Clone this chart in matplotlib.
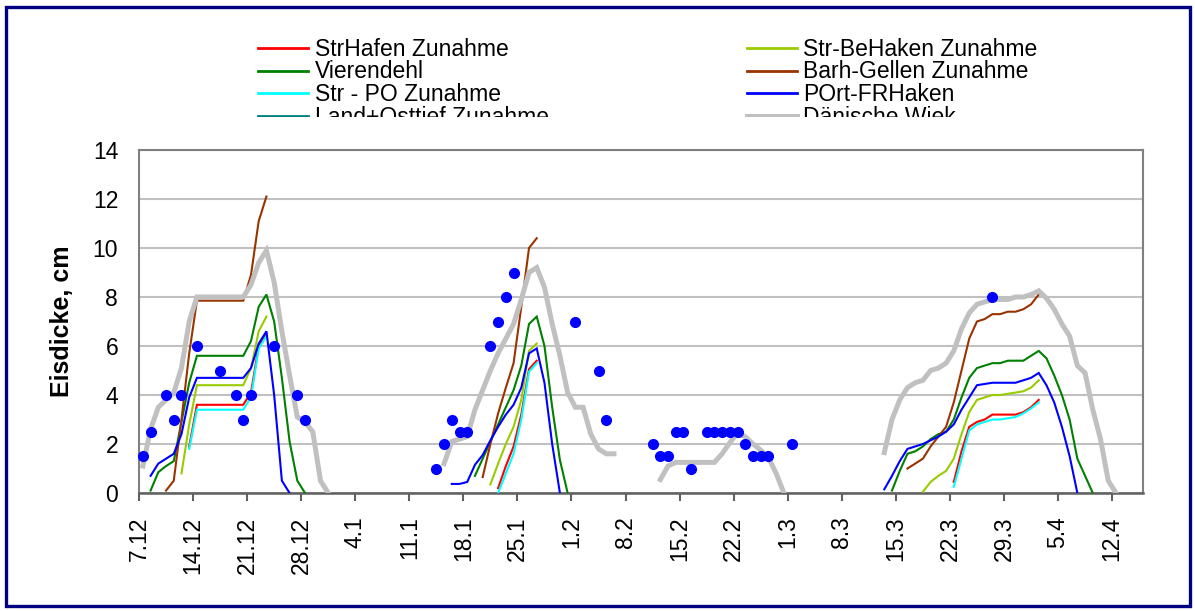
import numpy as np
import matplotlib
matplotlib.use("Agg")
import matplotlib.pyplot as plt
from matplotlib.lines import Line2D
from matplotlib.patches import Rectangle

plt.rcParams['font.family'] = ['Liberation Sans', 'DejaVu Sans']

# tick labels, one every 7 days starting 7.12 (day 0)
tick_days = list(range(0, 127, 7))
tick_labels = ["7.12", "14.12", "21.12", "28.12", "4.1", "11.1", "18.1", "25.1",
               "1.2", "8.2", "15.2", "22.2", "1.3", "8.3", "15.3", "22.3",
               "29.3", "5.4", "12.4"]

# series: list of (start day, daily values)
strhafen = [(6, [1.9, 3.6, 3.6, 3.6, 3.6, 3.6, 3.6, 3.6, 4.1, 6.0, 6.5]),
            (46, [0.2, 1.1, 1.9, 3.2, 5.05, 5.4]),
            (105, [0.45, 1.7, 2.7, 2.9, 3.0, 3.2, 3.2, 3.2, 3.2, 3.3, 3.5, 3.8])]
str_behaken = [(5, [0.8, 2.8, 4.4, 4.4, 4.4, 4.4, 4.4, 4.4, 4.4, 5.1, 6.6, 7.2]),
               (45, [0.35, 1.2, 2.0, 2.7, 3.8, 5.8, 6.1]),
               (101, [0.05, 0.45, 0.7, 0.9, 1.4, 2.4, 3.3, 3.8, 3.9, 4.0, 4.0,
                      4.05, 4.1, 4.15, 4.3, 4.6])]
vierendehl = [(1, [0.1, 0.85, 1.1, 1.3, 2.9, 4.5, 5.6, 5.6, 5.6, 5.6, 5.6, 5.6, 5.6,
                   6.2, 7.6, 8.1, 7.0, 4.7, 2.1, 0.5, 0.0]),
              (43, [0.7, 1.4, 2.1, 2.8, 3.5, 4.2, 5.2, 6.9, 7.2, 6.0, 3.5, 1.35, 0.0]),
              (97, [0.1, 0.9, 1.6, 1.7, 1.9, 2.2, 2.4, 2.5, 3.0, 3.9, 4.7, 5.1, 5.2,
                    5.3, 5.3, 5.4, 5.4, 5.4, 5.6, 5.8, 5.5, 4.8, 4.0, 3.0, 1.4, 0.7, 0.0])]
barh_gellen = [(3, [0.1, 0.5, 3.0, 5.7, 7.85, 7.85, 7.85, 7.85, 7.85, 7.85, 7.85,
                    8.9, 11.1, 12.1]),
               (44, [0.65, 2.0, 3.25, 4.3, 5.3, 7.6, 10.0, 10.4]),
               (99, [1.0, 1.2, 1.4, 1.9, 2.3, 2.7, 3.7, 5.0, 6.3, 7.0, 7.1, 7.3, 7.3,
                     7.4, 7.4, 7.5, 7.7, 8.1])]
str_po = [(6, [1.8, 3.4, 3.4, 3.4, 3.4, 3.4, 3.4, 3.4, 3.9, 5.9, 6.4]),
          (46, [0.0, 0.8, 1.6, 3.0, 4.95, 5.3]),
          (105, [0.25, 1.4, 2.55, 2.8, 2.9, 3.0, 3.0, 3.05, 3.1, 3.25, 3.45, 3.7])]
port_frhaken = [(1, [0.7, 1.2, 1.4, 1.6, 2.4, 3.9, 4.7, 4.7, 4.7, 4.7, 4.7, 4.7, 4.7,
                     5.1, 6.1, 6.6, 4.0, 0.5, 0.0]),
                (40, [0.37, 0.37, 0.45, 1.15, 1.55, 2.15, 2.7, 3.2, 3.6, 4.3, 5.7,
                      5.9, 4.5, 2.0, 0.0]),
                (96, [0.15, 0.7, 1.3, 1.8, 1.9, 2.0, 2.15, 2.3, 2.5, 2.8, 3.4, 3.9,
                      4.4, 4.45, 4.5, 4.5, 4.5, 4.5, 4.6, 4.7, 4.9, 4.4, 3.7, 2.7,
                      1.5, 0.0])]
land_osttief = []
daenische_wiek = [(0, [1.1, 2.6, 3.5, 3.8, 4.1, 5.1, 7.0, 8.0, 8.0, 8.0, 8.0, 8.0, 8.0,
                       8.0, 8.5, 9.4, 9.9, 8.6, 6.6, 4.8, 3.1, 2.9, 2.5, 0.5, 0.0]),
                  (39, [1.2, 2.1, 2.2, 2.3, 3.4, 4.2, 5.0, 5.7, 6.3, 6.9, 7.9, 9.0,
                        9.2, 8.4, 6.9, 5.6, 4.1, 3.5, 3.5, 2.4, 1.8, 1.6, 1.6]),
                  (67, [0.55, 1.1, 1.25, 1.25, 1.25, 1.25, 1.25, 1.25, 1.6, 2.05,
                        2.45, 2.3, 2.0, 1.75, 1.45, 0.8, 0.0]),
                  (96, [1.65, 3.0, 3.8, 4.3, 4.5, 4.6, 5.0, 5.1, 5.3, 5.8, 6.7, 7.35,
                        7.7, 7.8, 7.9, 7.9, 7.9, 8.0, 8.0, 8.1, 8.25, 7.95, 7.5, 6.9,
                        6.4, 5.2, 4.9, 3.4, 2.2, 0.5, 0.0])]

# single measurements (blue dots)
dot_days = [0, 1, 3, 4, 5, 7, 10, 12, 13, 14, 17, 20, 21,
            38, 39, 40, 41, 42, 45, 46, 47, 48, 56, 59, 60,
            66, 67, 68, 69, 70, 71, 73, 74, 75, 76, 77, 78, 79, 80, 81, 84, 110]
dot_vals = [1.5, 2.5, 4, 3, 4, 6, 5, 4, 3, 4, 6, 4, 3,
            1, 2, 3, 2.5, 2.5, 6, 7, 8, 9, 7, 5, 3,
            2, 1.5, 1.5, 2.5, 2.5, 1, 2.5, 2.5, 2.5, 2.5, 2.5, 2, 1.5, 1.5, 1.5, 2, 8]

series = [("StrHafen Zunahme", strhafen, "#ff0000", 1.5),
          ("Str-BeHaken Zunahme", str_behaken, "#99cc00", 1.5),
          ("Vierendehl", vierendehl, "#008000", 1.5),
          ("Barh-Gellen Zunahme", barh_gellen, "#993300", 1.5),
          ("Str - PO Zunahme", str_po, "#00ffff", 1.5),
          ("POrt-FRHaken", port_frhaken, "#0000ff", 1.5),
          ("Land+Osttief Zunahme", land_osttief, "#008080", 1.5),
          ("Dänische Wiek", daenische_wiek, "#c0c0c0", 3.6)]

W, H = 1195, 611
fig = plt.figure(figsize=(W / 100, H / 100), dpi=100)
ax = fig.add_axes([139 / W, 118 / H, (1143 - 139) / W, (493 - 150) / H])

for name, segs, col, lw in series:
    for start, vals in segs:
        x = np.arange(len(vals)) + start + 0.5
        ax.plot(x, vals, color=col, lw=lw, solid_joinstyle='miter', zorder=3)

ax.plot(np.array(dot_days) + 0.5, dot_vals, 'o', color='#0000ff', ms=7,
        mec='#0000ff', zorder=5, clip_on=False)

ax.set_xlim(0, 130)
ax.set_ylim(0, 14)
ax.set_yticks(range(0, 15, 2))
ax.set_xticks(tick_days)
ax.set_xticklabels(tick_labels, rotation=90, ha='center', va='top')
ax.tick_params(axis='y', length=0, pad=15, labelsize=16.5)
ax.tick_params(axis='x', length=6, width=1.5, color='#606060', pad=11, labelsize=16.5)
ax.grid(axis='y', color='#c0c0c0', lw=1.5)
ax.set_axisbelow(True)
for s in ['left', 'right', 'top']:
    ax.spines[s].set_color('#808080')
    ax.spines[s].set_linewidth(1.5)
ax.spines['bottom'].set_color('#606060')
ax.spines['bottom'].set_linewidth(1.8)

ax.set_ylabel("Eisdicke, cm", fontsize=18, fontweight='bold', va='center')
ax.yaxis.set_label_coords(-0.0767, 0.5)

# legend drawn by hand (Excel order, two columns), bottom row cut off
for i, (name, segs, col, lw) in enumerate(series):
    c, r = i % 2, i // 2
    x0 = [258, 747][c]
    tx = [315, 803][c]
    yc = 48 + r * 22.6
    fig.add_artist(Line2D([x0 / W, (x0 + 50) / W], [1 - yc / H, 1 - yc / H],
                          color=col, lw=max(lw, 2.0), transform=fig.transFigure))
    fig.text(tx / W, 1 - (yc + 7.8) / H, name, fontsize=16.5, va='baseline', ha='left')

fig.add_artist(Rectangle((240 / W, 1 - 141 / H), 880 / W, 24 / H, transform=fig.transFigure,
                         facecolor='white', edgecolor='none', zorder=10))

# outer frame
fig.add_artist(Rectangle((5.5 / W, 1 - 606 / H), 1184 / W, 599.5 / H, transform=fig.transFigure,
                         facecolor='none', edgecolor='#000080', lw=2.4, zorder=11))

fig.savefig("out.png", dpi=100)
